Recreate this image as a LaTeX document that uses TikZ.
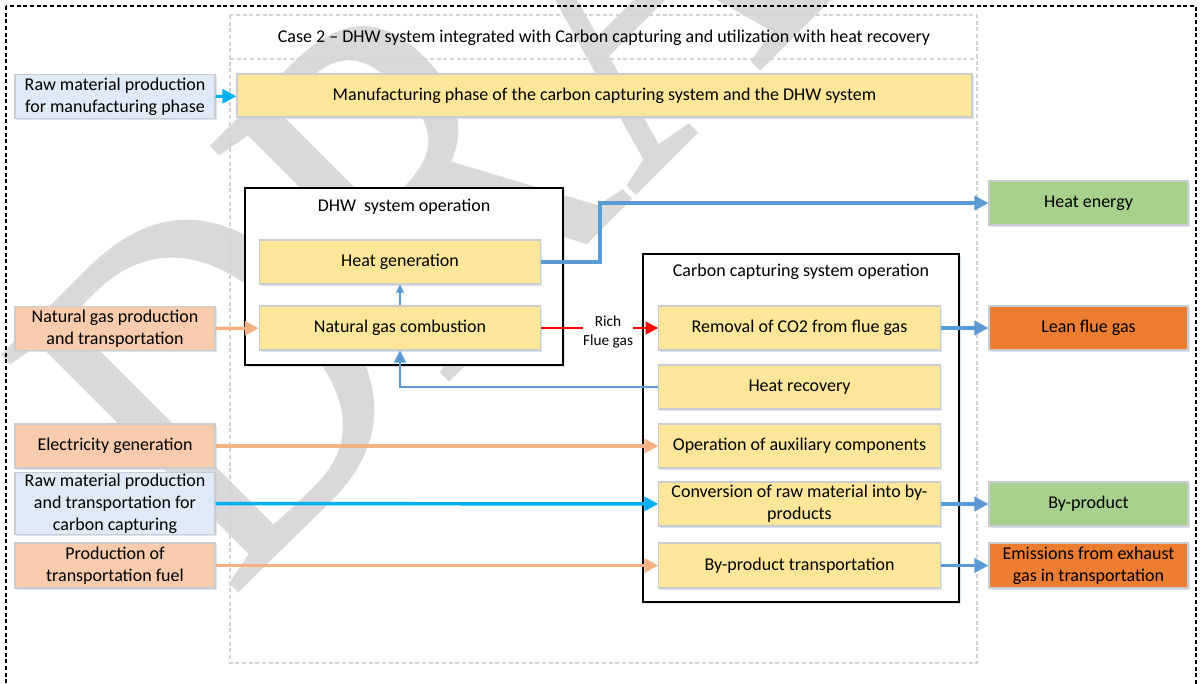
\documentclass[tikz,border=0pt]{standalone}
\usepackage{fontspec}
\usepackage{graphicx}
\setmainfont{Carlito}
\newfontfamily\wmfont{Liberation Serif}
\usetikzlibrary{arrows.meta,calc,shadows}
\definecolor{ylw}{HTML}{FFE699}
\definecolor{lblue}{HTML}{DEEBF7}
\definecolor{lorange}{HTML}{F8CBAD}
\definecolor{greenA}{HTML}{A9D18E}
\definecolor{dorange}{HTML}{ED7D31}
\definecolor{cyanA}{HTML}{00B0F0}
\definecolor{blueA}{HTML}{5B9BD5}
\definecolor{orangeA}{HTML}{F4B183}
\definecolor{bord}{HTML}{C9CDD2}
\definecolor{framec}{HTML}{D0D4DA}
\definecolor{wm}{HTML}{D9D9D9}
\definecolor{shad}{HTML}{C5D3E6}
\begin{document}
\begin{tikzpicture}[x=0.75pt,y=-0.75pt,
  every node/.style={font=\fontsize{13.5}{16.5}\selectfont, align=center, inner sep=1pt},
  sh/.style={drop shadow={shadow xshift=1.2pt, shadow yshift=-1.2pt, fill=shad, opacity=0.6}},
  ybox/.style={sh, draw=bord, fill=ylw, line width=0.8pt, minimum width=211pt, minimum height=33pt},
  lbox/.style={sh, draw=bord, fill=#1, line width=0.8pt, minimum width=150pt, minimum height=33pt},
  rbox/.style={sh, draw=bord, fill=#1, line width=0.8pt, minimum width=149.25pt, minimum height=33pt},
  opbox/.style={sh, draw=black, line width=0.8pt, fill=white},
  arr/.style={-{Triangle[length=10.5pt,width=10.5pt]}, line width=2.6pt},
  thinarr/.style={-{Triangle[length=6pt,width=6pt]}, line width=0.8pt, draw=blueA},
  midarr/.style={-{Triangle[length=9pt,width=9pt]}, line width=1.5pt, draw=blueA},
  redarr/.style={-{Triangle[length=9.5pt,width=9.5pt]}, line width=1.8pt, draw=red}]
\useasboundingbox (0,0) rectangle (1201,683);
\fill[white] (0,0) rectangle (1201,683);
% watermark
\node[anchor=base west, rotate=45, text=wm, inner sep=0pt,
  font=\fontsize{385}{385}\wmfont] (wmark) at (230,602) {\scalebox{0.8}[1]{DRAFT}};
% outer dashed border
\draw[line width=1.5pt, dash pattern=on 3pt off 2pt] (6,6) rectangle (1196,720);
% inner frame
\draw[framec, line width=1.3pt, dash pattern=on 3pt off 2pt] (230,15) rectangle (977,663);
\draw[framec, line width=2pt, dash pattern=on 3pt off 2pt] (230,59) -- (977,59);
\node (title) at (604,38) {Case 2 -- DHW system integrated with Carbon capturing and utilization with heat recovery};
% manufacturing row
\node[lbox=lblue] (rawm) at (115,96.5) {Raw material production\\for manufacturing phase};
\node[sh, draw=bord, fill=ylw, line width=0.8pt, minimum width=551.25pt, minimum height=32.25pt] (manuf) at (604.5,95.5) {Manufacturing phase of the carbon capturing system and the DHW system};
% DHW box
\node[opbox, minimum width=238.5pt, minimum height=132.75pt] (dhw) at (404,276.5) {};
\node (dhwt) at (404,207) {DHW\ \ system operation};
\node[ybox] (hg) at (400,262) {Heat generation};
\node[ybox] (ngc) at (400,328) {Natural gas combustion};
% CCS box
\node[opbox, minimum width=237pt, minimum height=261pt] (ccs) at (801,428) {};
\node (ccst) at (801,272) {Carbon capturing system operation};
\node[ybox] (rem) at (799.5,328) {Removal of CO2 from flue gas};
\node[ybox] (hr) at (799.5,387) {Heat recovery};
\node[ybox] (aux) at (799.5,446) {Operation of auxiliary components};
\node[ybox] (conv) at (799.5,504) {Conversion of raw material into by-\\products};
\node[ybox, minimum height=33.75pt] (bpt) at (799.5,565.5) {By-product transportation};
% left inputs
\node[lbox=lorange] (ngp) at (115,328.5) {Natural gas production\\and transportation};
\node[lbox=lorange] (elec) at (115,446) {Electricity generation};
\node[lbox=lblue, minimum height=45.75pt] (rawc) at (115,503.5) {Raw material production\\and transportation for\\carbon capturing};
\node[lbox=lorange, minimum height=33.75pt] (fuel) at (115,565.5) {Production of\\transportation fuel};
% right outputs
\node[rbox=greenA] (he) at (1088.5,203) {Heat energy};
\node[rbox=dorange] (lean) at (1088.5,328) {Lean flue gas};
\node[rbox=greenA] (bp) at (1088.5,504) {By-product};
\node[rbox=dorange, minimum height=33.75pt] (em) at (1088.5,565.5) {Emissions from exhaust\\gas in transportation};
% rich flue gas label
\node[font=\fontsize{11.5}{14}\selectfont, inner sep=0pt] (rfg) at (608,332) {Rich\\Flue gas};
% connectors
\draw[arr, draw=cyanA, line width=2.2pt] (rawm) -- (manuf);
\draw[arr, draw=orangeA] (ngp) -- (ngc);
\draw[thinarr] (ngc) -- (hg);
\draw[arr, draw=blueA] (hg.east) -- (600,262) -- (600,203) -- (he.west);
\draw[red, line width=1.8pt] (ngc.east) -- (rfg.west |- ngc.east);
\draw[redarr] (rfg.east |- rem.west) -- (rem.west);
\draw[midarr] (hr.west) -- (400,387) -- (ngc.south);
\draw[arr, draw=blueA] (rem) -- (lean);
\draw[arr, draw=orangeA] (elec) -- (aux);
\draw[arr, draw=cyanA] (rawc) -- (conv);
\draw[arr, draw=orangeA] (fuel) -- (bpt);
\draw[arr, draw=blueA] (conv) -- (bp);
\draw[arr, draw=blueA] (bpt) -- (em);
\end{tikzpicture}
\end{document}
